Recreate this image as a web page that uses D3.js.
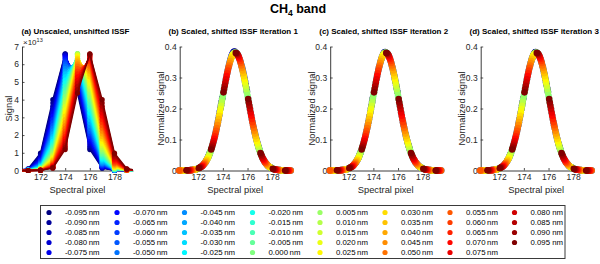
<!DOCTYPE html>
<html>
<head>
<meta charset="utf-8">
<script src="https://cdn.jsdelivr.net/npm/d3@7"></script>
<style>
  body { margin: 0; background: #fff; }
  svg text { font-family: "Liberation Sans", Arial, Helvetica, sans-serif; }
</style>
</head>
<body>
<div id="chart"></div>
<script>
// wavelength shift applied to each ISSF (nm)
var shifts = [-0.095, -0.090, -0.085, -0.080, -0.075, -0.070, -0.065, -0.060, -0.055, -0.050,
              -0.045, -0.040, -0.035, -0.030, -0.025, -0.020, -0.015, -0.010, -0.005, 0.000,
               0.005,  0.010,  0.015,  0.020,  0.025,  0.030,  0.035,  0.040,  0.045,  0.050,
               0.055,  0.060,  0.065,  0.070,  0.075,  0.080,  0.085,  0.090,  0.095];

var legendLabels = ["-0.095\u2009nm", "-0.090\u2009nm", "-0.085\u2009nm", "-0.080\u2009nm", "-0.075\u2009nm",
                    "-0.070\u2009nm", "-0.065\u2009nm", "-0.060\u2009nm", "-0.055\u2009nm", "-0.050\u2009nm",
                    "-0.045\u2009nm", "-0.040\u2009nm", "-0.035\u2009nm", "-0.030\u2009nm", "-0.025\u2009nm",
                    "-0.020\u2009nm", "-0.015\u2009nm", "-0.010\u2009nm", "-0.005\u2009nm", "0.000\u2009nm",
                    "0.005\u2009nm", "0.010\u2009nm", "0.015\u2009nm", "0.020\u2009nm", "0.025\u2009nm",
                    "0.030\u2009nm", "0.035\u2009nm", "0.040\u2009nm", "0.045\u2009nm", "0.050\u2009nm",
                    "0.055\u2009nm", "0.060\u2009nm", "0.065\u2009nm", "0.070\u2009nm", "0.075\u2009nm",
                    "0.080 nm", "0.085 nm", "0.090 nm", "0.095 nm"];

// detector pixels sampled by every ISSF
var pixels = [170, 171, 172, 173, 174, 175, 176, 177, 178, 179, 180];

// raw signal (x 1e13), one row per shift, one column per pixel
var signal = [
  [0, 0.10, 0.98, 4.00, 6.59, 4.38, 1.18, 0.13, 0.01, 0, 0],
  [0, 0.08, 0.89, 3.81, 6.57, 4.57, 1.29, 0.15, 0.01, 0, 0],
  [0, 0.07, 0.81, 3.62, 6.53, 4.75, 1.40, 0.17, 0.01, 0, 0],
  [0, 0.06, 0.73, 3.44, 6.48, 4.93, 1.52, 0.19, 0.01, 0, 0],
  [0, 0.06, 0.66, 3.25, 6.42, 5.11, 1.65, 0.21, 0.01, 0, 0],
  [0, 0.05, 0.60, 3.07, 6.34, 5.29, 1.78, 0.24, 0.01, 0, 0],
  [0, 0.04, 0.54, 2.88, 6.24, 5.45, 1.92, 0.27, 0.02, 0, 0],
  [0, 0.04, 0.48, 2.71, 6.14, 5.61, 2.07, 0.31, 0.02, 0, 0],
  [0, 0.03, 0.43, 2.54, 6.02, 5.75, 2.22, 0.35, 0.02, 0, 0],
  [0, 0.03, 0.39, 2.38, 5.89, 5.89, 2.38, 0.39, 0.03, 0, 0],
  [0, 0.02, 0.35, 2.22, 5.75, 6.02, 2.54, 0.43, 0.03, 0, 0],
  [0, 0.02, 0.31, 2.07, 5.61, 6.14, 2.71, 0.48, 0.04, 0, 0],
  [0, 0.02, 0.27, 1.92, 5.45, 6.24, 2.88, 0.54, 0.04, 0, 0],
  [0, 0.01, 0.24, 1.78, 5.29, 6.34, 3.07, 0.60, 0.05, 0, 0],
  [0, 0.01, 0.21, 1.65, 5.11, 6.42, 3.25, 0.66, 0.06, 0, 0],
  [0, 0.01, 0.19, 1.52, 4.93, 6.48, 3.44, 0.73, 0.06, 0, 0],
  [0, 0.01, 0.17, 1.40, 4.75, 6.53, 3.62, 0.81, 0.07, 0, 0],
  [0, 0.01, 0.15, 1.29, 4.57, 6.57, 3.81, 0.89, 0.08, 0, 0],
  [0, 0.01, 0.13, 1.18, 4.38, 6.59, 4.00, 0.98, 0.10, 0, 0],
  [0, 0, 0.11, 1.08, 4.19, 6.60, 4.19, 1.08, 0.11, 0, 0],
  [0, 0, 0.10, 0.98, 4.00, 6.59, 4.38, 1.18, 0.13, 0.01, 0],
  [0, 0, 0.08, 0.89, 3.81, 6.57, 4.57, 1.29, 0.15, 0.01, 0],
  [0, 0, 0.07, 0.81, 3.62, 6.53, 4.75, 1.40, 0.17, 0.01, 0],
  [0, 0, 0.06, 0.73, 3.44, 6.48, 4.93, 1.52, 0.19, 0.01, 0],
  [0, 0, 0.06, 0.66, 3.25, 6.42, 5.11, 1.65, 0.21, 0.01, 0],
  [0, 0, 0.05, 0.60, 3.07, 6.34, 5.29, 1.78, 0.24, 0.01, 0],
  [0, 0, 0.04, 0.54, 2.88, 6.24, 5.45, 1.92, 0.27, 0.02, 0],
  [0, 0, 0.04, 0.48, 2.71, 6.14, 5.61, 2.07, 0.31, 0.02, 0],
  [0, 0, 0.03, 0.43, 2.54, 6.02, 5.75, 2.22, 0.35, 0.02, 0],
  [0, 0, 0.03, 0.39, 2.38, 5.89, 5.89, 2.38, 0.39, 0.03, 0],
  [0, 0, 0.02, 0.35, 2.22, 5.75, 6.02, 2.54, 0.43, 0.03, 0],
  [0, 0, 0.02, 0.31, 2.07, 5.61, 6.14, 2.71, 0.48, 0.04, 0],
  [0, 0, 0.02, 0.27, 1.92, 5.45, 6.24, 2.88, 0.54, 0.04, 0],
  [0, 0, 0.01, 0.24, 1.78, 5.29, 6.34, 3.07, 0.60, 0.05, 0],
  [0, 0, 0.01, 0.21, 1.65, 5.11, 6.42, 3.25, 0.66, 0.06, 0],
  [0, 0, 0.01, 0.19, 1.52, 4.93, 6.48, 3.44, 0.73, 0.06, 0],
  [0, 0, 0.01, 0.17, 1.40, 4.75, 6.53, 3.62, 0.81, 0.07, 0],
  [0, 0, 0.01, 0.15, 1.29, 4.57, 6.57, 3.81, 0.89, 0.08, 0],
  [0, 0, 0.01, 0.13, 1.18, 4.38, 6.59, 4.00, 0.98, 0.10, 0]
];

// leftover amplitude error of each ISSF after iteration 1, 2, 3
var residual1 = [1.012, 1.012, 1.011, 1.01, 1.01, 1.009, 1.008, 1.006, 1.005, 1.004,
                 1.003, 1.002, 1, 1, 1, 1, 1, 1, 1, 1, 1, 1, 1, 1, 1, 1, 1, 1, 1, 1,
                 1, 1, 1, 1, 1, 1, 1, 1, 1];
var residual2 = [1.008, 1.006, 1.005, 1.003, 1, 1, 1, 1, 1, 1,
                 1, 1, 1, 1, 1, 1, 1, 1, 1, 1, 1, 1, 1, 1, 1, 1, 1, 1, 1, 1,
                 1, 1, 1, 1, 1, 1, 1, 1, 1];
var residual3 = [1.007, 1.005, 1.004, 1.002, 1, 1, 1, 1, 1, 1,
                 1, 1, 1, 1, 1, 1, 1, 1, 1, 1, 1, 1, 1, 1, 1, 1, 1, 1, 1, 1,
                 1, 1, 1, 1, 1, 1, 1, 1, 1];

var pixelsPerNm = 10;
var panelTitles = ["(a) Unscaled, unshifted ISSF", "(b) Scaled, shifted ISSF iteration 1",
                   "(c) Scaled, shifted ISSF iteration 2", "(d) Scaled, shifted ISSF iteration 3"];
var xTicks = [172, 174, 176, 178];
var yTicksRaw = [0, 1, 2, 3, 4, 5, 6, 7];
var yTicksNorm = [0, 0.1, 0.2, 0.3, 0.4];

var W = 600, H = 264;
var svg = d3.select("#chart").append("svg").attr("width", W).attr("height", H);

var axisColor = "#262626";
var panelX = [22, 179.7, 330.2, 480.7], panelW = 111, plotTop = 46.5, plotBottom = 170.5;
var xDomain = [170.5, 179.5];

function jet(t) {
    var c = function(v) { return Math.round(255 * Math.max(0, Math.min(1, v))); };
    return d3.rgb(c(1.5 - Math.abs(4 * t - 3)), c(1.5 - Math.abs(4 * t - 2)), c(1.5 - Math.abs(4 * t - 1))).formatHex();
}
function color(i) { return jet(i / (shifts.length - 1)); }

// main title
svg.append("text")
    .attr("x", 298).attr("y", 13)
    .attr("text-anchor", "middle")
    .style("font-size", "12.5px").style("font-weight", "bold")
    .call(function(t) {
        t.append("tspan").text("CH");
        t.append("tspan").attr("dy", 3).style("font-size", "8.5px").text("4");
        t.append("tspan").attr("dy", -3).text(" band");
    });

function drawPanel(k, yDomain, yTicks, yFmt, ylabel, ylabelOff) {
    var left = panelX[k];
    var g = svg.append("g");
    var x = d3.scaleLinear().domain(xDomain).range([left, left + panelW]);
    var y = d3.scaleLinear().domain(yDomain).range([plotBottom, plotTop]);

    g.append("text")
        .attr("x", left + panelW / 2 - 2).attr("y", 33.5)
        .attr("text-anchor", "middle")
        .style("font-size", "8px").style("font-weight", "bold").style("fill", "#000")
        .text(panelTitles[k]);

    var xa = g.append("g")
        .attr("transform", "translate(0," + plotBottom + ")")
        .call(d3.axisBottom(x).tickValues(xTicks).tickSizeInner(-2.5).tickSizeOuter(0).tickPadding(3));
    var ya = g.append("g")
        .attr("transform", "translate(" + left + ",0)")
        .call(d3.axisLeft(y).tickValues(yTicks).tickFormat(yFmt).tickSizeInner(-2.5).tickSizeOuter(0).tickPadding(3));
    [xa, ya].forEach(function(a) {
        a.select(".domain").attr("stroke", axisColor).attr("stroke-width", 0.9);
        a.selectAll(".tick line").attr("stroke", axisColor).attr("stroke-width", 0.8);
        a.selectAll(".tick text").style("font-size", "8.5px").attr("fill", axisColor);
    });

    g.append("text")
        .attr("x", left + panelW / 2).attr("y", 193)
        .attr("text-anchor", "middle")
        .style("font-size", "9.3px").style("fill", axisColor)
        .text("Spectral pixel");

    g.append("text")
        .attr("transform", "translate(" + (left - ylabelOff) + "," + ((plotTop + plotBottom) / 2) + ") rotate(-90)")
        .attr("text-anchor", "middle")
        .style("font-size", "9.3px").style("fill", axisColor)
        .text(ylabel);

    return { g: g, x: x, y: y, left: left };
}

// (a) raw signal
var pa = drawPanel(0, [0, 7], yTicksRaw, d3.format("d"), "Signal", 10.5);
pa.g.append("text")
    .attr("x", pa.left + 1).attr("y", 44.5)
    .style("font-size", "8px").style("fill", axisColor)
    .call(function(t) {
        t.append("tspan").text("\u00d710");
        t.append("tspan").attr("dy", -3).style("font-size", "5.5px").text("13");
    });

svg.append("clipPath").attr("id", "clipA")
    .append("rect")
    .attr("x", pa.left).attr("y", plotTop - 5)
    .attr("width", panelW).attr("height", plotBottom - plotTop + 10);

var lineA = d3.line()
    .x(function(d, j) { return pa.x(pixels[j]); })
    .y(function(d) { return pa.y(d); });

var seriesA = pa.g.append("g").selectAll("g")
    .data(signal)
    .enter().append("g");

seriesA.append("path")
    .attr("clip-path", "url(#clipA)")
    .attr("d", lineA)
    .attr("fill", "none")
    .attr("stroke", function(d, i) { return color(i); })
    .attr("stroke-width", 1.4);

seriesA.each(function(row, i) {
    d3.select(this).selectAll("circle")
        .data(row.map(function(v, j) { return { p: pixels[j], v: v }; })
            .filter(function(d) { return d.p >= xDomain[0] && d.p <= xDomain[1]; }))
        .enter().append("circle")
        .attr("cx", function(d) { return pa.x(d.p); })
        .attr("cy", function(d) { return pa.y(d.v); })
        .attr("r", 2.6)
        .attr("fill", color(i));
});

// (b)-(d) normalised, re-aligned signal
[residual1, residual2, residual3].forEach(function(resid, n) {
    var p = drawPanel(n + 1, [0, 0.4], yTicksNorm, function(v) { return v === 0 ? "0" : d3.format(".1f")(v); },
        "Normalized signal", 15.7);
    signal.forEach(function(row, i) {
        var total = d3.sum(row);
        var pts = row.map(function(v, j) {
            return { x: pixels[j] - shifts[i] * pixelsPerNm, y: v / total * resid[i] };
        }).filter(function(d) { return d.x >= xDomain[0] - 0.06 && d.x <= xDomain[1] + 0.02; });
        p.g.append("g").selectAll("circle")
            .data(pts)
            .enter().append("circle")
            .attr("cx", function(d) { return p.x(d.x); })
            .attr("cy", function(d) { return p.y(d.y); })
            .attr("r", 3.3)
            .attr("fill", color(i));
    });
});

// legend
var legendColX = [49, 117, 184.5, 252.5, 320, 385, 450, 514.5];
var legendRows = 5;
svg.append("rect")
    .attr("x", 40.5).attr("y", 205.5)
    .attr("width", 524.5).attr("height", 53)
    .attr("fill", "#fff").attr("stroke", "#3a3a3a").attr("stroke-width", 1);

var items = svg.append("g").selectAll("g")
    .data(legendLabels)
    .enter().append("g")
    .attr("transform", function(d, i) {
        return "translate(" + legendColX[Math.floor(i / legendRows)] + "," + (212.5 + (i % legendRows) * 10) + ")";
    });
items.append("circle").attr("r", 2.6).attr("fill", function(d, i) { return color(i); });
items.append("text")
    .attr("x", 16).attr("dy", "0.35em")
    .style("font-size", "7.8px").style("fill", "#000")
    .text(function(d) { return d; });
</script>
</body>
</html>
